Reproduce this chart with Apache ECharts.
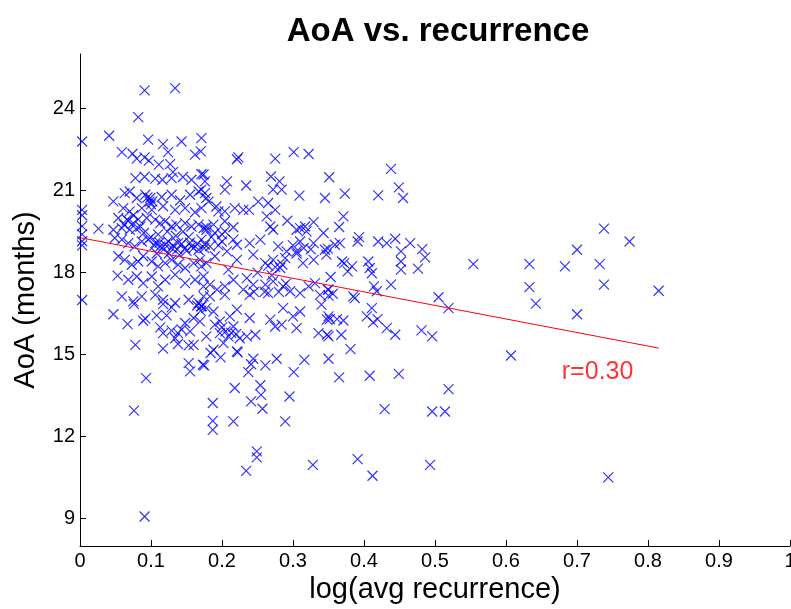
<!DOCTYPE html>
<html>
<head>
<meta charset="utf-8">
<script src="https://cdn.jsdelivr.net/npm/echarts@6/dist/echarts.min.js"></script>
<style>
    html, body {margin: 0; padding: 0; background: #fff;}
    #chart {width: 791px; height: 609px;}
</style>
</head>
<body>
<div id="chart"></div>
<script>
// [log(avg recurrence), AoA in months]
const points = [
    [0.091, 24.67], [0.134, 24.75], [0.082, 23.69], [0.041, 23.01], [0.003, 22.8], [0.096, 22.87], [0.117, 22.7],
    [0.143, 22.8], [0.171, 22.92], [0.059, 22.41], [0.074, 22.35], [0.080, 22.17], [0.091, 22.22], [0.097, 22.1],
    [0.124, 22.41], [0.111, 21.95], [0.127, 21.97], [0.131, 21.68], [0.162, 22.32], [0.170, 22.44], [0.171, 21.6],
    [0.078, 21.46], [0.091, 21.51], [0.106, 21.44], [0.116, 21.4], [0.129, 21.46], [0.145, 21.5], [0.157, 21.4],
    [0.223, 22.22], [0.221, 22.15], [0.275, 22.17], [0.301, 22.41], [0.322, 22.34], [0.174, 21.59], [0.176, 21.34],
    [0.171, 21.04], [0.176, 20.91], [0.178, 20.73], [0.207, 21.34], [0.204, 21.04], [0.234, 21.19], [0.269, 21.52],
    [0.281, 21.34], [0.272, 21.04], [0.284, 21.04], [0.309, 20.82], [0.345, 20.73], [0.351, 21.49], [0.181, 20.6],
    [0.192, 20.42], [0.195, 20.24], [0.204, 20.24], [0.218, 20.36], [0.230, 20.3], [0.238, 20.3], [0.251, 20.6],
    [0.265, 20.55], [0.275, 20.3], [0.263, 20.06], [0.292, 19.9], [0.329, 19.85], [0.310, 19.63], [0.317, 19.69],
    [0.268, 19.69], [0.204, 19.88], [0.216, 19.66], [0.178, 19.66], [0.188, 19.76],
    [0.438, 21.8], [0.449, 21.12], [0.455, 20.73], [0.373, 20.89], [0.42, 20.83], [0.371, 20.06], [0.365, 19.67],
    [0.393, 19.3], [0.391, 19.14], [0.42, 19.14], [0.432, 19.08], [0.444, 19.24], [0.465, 19.08], [0.452, 18.78],
    [0.482, 18.86], [0.486, 18.56], [0.359, 19.02], [0.366, 19.08], [0.349, 18.88], [0.369, 18.41], [0.372, 18.35],
    [0.383, 18.23], [0.406, 18.41], [0.408, 18.17], [0.452, 18.41], [0.452, 18.11], [0.476, 18.15],
    [0.377, 18.05], [0.411, 17.98], [0.353, 17.84], [0.414, 17.5], [0.418, 17.32], [0.438, 17.56], [0.349, 17.38],
    [0.356, 17.23], [0.35, 17.16], [0.385, 17.13], [0.387, 17.07], [0.505, 17.1], [0.519, 16.7], [0.411, 16.7],
    [0.404, 16.4], [0.419, 16.3], [0.413, 16.18], [0.432, 15.97], [0.444, 15.73], [0.352, 16.3], [0.362, 16.3],
    [0.371, 16.25], [0.348, 16.28], [0.348, 15.73], [0.368, 15.73], [0.481, 15.89], [0.496, 15.67], [0.381, 15.2],
    [0.365, 14.17], [0.408, 14.23], [0.449, 14.3], [0.519, 13.74],
    [0.429, 13.01], [0.496, 12.92], [0.514, 12.92], [0.391, 11.18], [0.412, 10.57], [0.493, 10.97],
    [0.738, 19.61], [0.774, 19.14], [0.70, 18.84], [0.554, 18.31], [0.633, 18.31], [0.683, 18.23], [0.732, 18.31],
    [0.633, 17.47], [0.738, 17.56], [0.815, 17.34], [0.642, 16.87], [0.70, 16.48], [0.607, 14.97], [0.744, 10.51],
    [0.184, 15.06], [0.198, 14.9], [0.175, 14.61], [0.222, 15.09], [0.244, 14.85], [0.241, 14.65], [0.237, 14.36],
    [0.261, 14.61], [0.277, 14.85], [0.316, 14.81], [0.301, 14.36], [0.35, 14.85], [0.218, 13.78], [0.254, 13.88],
    [0.255, 13.53], [0.241, 13.29], [0.257, 13.02], [0.295, 13.47], [0.187, 13.23], [0.187, 12.58], [0.187, 12.25],
    [0.216, 12.56], [0.289, 12.56], [0.249, 11.46], [0.249, 11.24], [0.234, 10.75], [0.328, 10.97],
    [0.047, 16.48], [0.067, 16.12], [0.092, 16.32], [0.089, 16.24], [0.076, 16.85], [0.108, 16.44], [0.122, 16.44],
    [0.129, 16.73], [0.117, 16.85], [0.078, 15.36], [0.117, 15.22], [0.113, 16.0], [0.117, 15.79], [0.129, 15.88],
    [0.138, 15.79], [0.143, 15.92], [0.148, 16.16], [0.155, 15.85], [0.134, 15.6], [0.138, 15.39], [0.153, 15.34],
    [0.16, 15.36], [0.153, 14.69], [0.155, 14.39], [0.173, 14.63], [0.093, 14.14], [0.076, 12.95], [0.16, 16.34],
    [0.169, 16.22], [0.171, 16.77], [0.091, 9.08],
    [0.003, 20.3], [0.003, 20.1], [0.003, 19.7], [0.003, 19.4], [0.003, 19.15], [0.003, 19.0], [0.003, 17.0],
    [0.026, 19.61],
    [0.047, 20.61], [0.063, 20.91], [0.070, 20.97], [0.080, 20.73], [0.092, 20.85], [0.099, 20.73], [0.102, 20.61],
    [0.115, 20.77], [0.129, 20.85], [0.141, 20.64], [0.155, 20.85], [0.167, 20.97],
    [0.061, 20.36], [0.070, 20.24], [0.087, 20.36], [0.101, 20.30], [0.117, 20.43], [0.134, 20.30], [0.148, 20.36],
    [0.162, 20.21], [0.171, 20.36],
    [0.054, 20.0], [0.066, 19.94], [0.075, 19.81], [0.085, 19.69], [0.094, 20.0], [0.106, 19.94], [0.113, 19.81],
    [0.120, 19.88], [0.129, 19.69], [0.136, 19.76], [0.148, 19.81], [0.157, 19.69], [0.167, 19.76], [0.174, 19.63],
    [0.047, 19.57], [0.059, 19.63], [0.070, 19.57],
    [0.049, 19.27], [0.059, 19.21], [0.068, 19.08], [0.077, 18.96], [0.087, 19.14], [0.096, 19.21], [0.106, 19.08],
    [0.113, 18.96], [0.120, 19.02], [0.129, 18.90], [0.138, 19.08], [0.148, 18.90], [0.157, 18.96], [0.167, 18.84],
    [0.176, 19.02],
    [0.054, 18.60], [0.063, 18.47], [0.073, 18.29], [0.082, 18.41], [0.089, 18.60], [0.101, 18.41], [0.110, 18.23],
    [0.120, 18.35], [0.129, 18.47], [0.138, 18.29], [0.148, 18.17], [0.160, 18.35], [0.171, 18.23],
    [0.053, 17.89], [0.068, 17.74], [0.080, 17.86], [0.089, 17.62], [0.101, 17.86], [0.110, 17.50], [0.120, 17.74],
    [0.134, 17.93], [0.148, 17.62], [0.162, 17.74], [0.174, 17.50],
    [0.059, 17.13], [0.075, 16.95], [0.087, 17.13], [0.106, 17.19], [0.117, 17.01], [0.134, 16.89], [0.153, 17.01],
    [0.167, 16.89],
    [0.178, 19.57], [0.190, 19.45], [0.204, 19.51], [0.216, 19.21], [0.200, 19.14], [0.183, 18.96], [0.221, 19.02],
    [0.239, 19.08], [0.254, 19.21], [0.272, 19.57], [0.279, 18.96], [0.291, 18.78], [0.305, 19.57], [0.319, 19.51],
    [0.310, 19.14], [0.329, 19.08], [0.343, 19.45], [0.345, 18.84], [0.171, 19.21],
    [0.169, 18.47], [0.178, 18.35], [0.190, 18.60], [0.207, 18.78], [0.221, 18.47], [0.209, 18.11], [0.244, 18.66],
    [0.261, 18.35], [0.272, 18.47], [0.289, 18.53], [0.305, 18.78], [0.314, 18.35], [0.329, 18.47], [0.347, 18.66],
    [0.282, 18.17],
    [0.174, 17.86], [0.183, 17.56], [0.193, 17.38], [0.204, 17.50], [0.204, 17.19], [0.216, 17.74], [0.230, 17.38],
    [0.239, 17.19], [0.244, 17.56], [0.261, 17.56], [0.265, 17.25], [0.272, 17.68], [0.286, 17.50], [0.296, 17.32],
    [0.310, 17.25], [0.322, 17.50], [0.331, 17.62], [0.338, 17.19], [0.350, 17.38], [0.174, 17.13], [0.183, 17.13],
    [0.171, 16.77], [0.188, 16.58], [0.197, 16.22], [0.211, 16.40], [0.221, 16.65], [0.239, 16.34], [0.268, 16.28],
    [0.286, 16.70], [0.300, 16.40], [0.310, 16.58], [0.340, 16.83], [0.350, 16.40],
    [0.178, 15.67], [0.197, 15.79], [0.209, 15.67], [0.216, 16.03], [0.235, 15.67], [0.247, 15.73], [0.275, 16.03],
    [0.284, 16.10], [0.305, 15.97], [0.336, 15.79], [0.350, 15.67], [0.188, 15.18], [0.221, 15.12], [0.202, 15.42],
    [0.095, 20.75], [0.098, 20.6], [0.1, 20.5],
    [0.105, 19.0], [0.112, 19.1], [0.118, 18.85], [0.124, 19.15], [0.131, 19.0], [0.137, 18.85], [0.143, 19.05],
    [0.150, 18.8], [0.155, 19.1], [0.16, 18.9], [0.165, 19.05], [0.108, 18.7], [0.125, 18.7], [0.14, 18.65],
    [0.1, 19.3], [0.11, 19.4], [0.123, 19.5], [0.135, 19.35], [0.145, 19.5], [0.153, 19.3], [0.068, 19.9],
    [0.075, 20.1], [0.082, 19.95], [0.062, 19.75], [0.079, 19.6], [0.09, 19.45],
    [0.165, 16.8], [0.17, 16.6], [0.178, 16.7], [0.2, 16.0], [0.205, 15.85], [0.213, 15.8], [0.19, 16.1],
    [0.22, 15.75], [0.225, 15.6], [0.185, 19.3], [0.195, 19.0], [0.175, 18.9], [0.2, 19.4],
    [0.235, 17.8], [0.25, 18.0], [0.26, 17.3], [0.27, 17.9], [0.28, 17.3], [0.29, 17.6], [0.245, 17.3],
    [0.3, 19.0], [0.315, 18.9], [0.325, 18.85], [0.305, 18.7], [0.265, 18.25], [0.275, 18.2], [0.285, 18.3]
];

// least-squares line as drawn in the figure
const fitLine = [[0, 19.28], [0.815, 15.24]];
const rLabel = "r=0.30";
const rLabelAt = [0.729, 14.35];

const xTicks = [0, 0.1, 0.2, 0.3, 0.4, 0.5, 0.6, 0.7, 0.8, 0.9, 1];
const yTicks = [9, 12, 15, 18, 21, 24];

const font = "Liberation Sans, Arial, Helvetica, sans-serif";
const chart = echarts.init(document.getElementById("chart"), null, {renderer: "canvas"});

chart.setOption({
    animation: false,
    title: {
        text: "AoA vs. recurrence",
        left: 433,
        top: 10,
        textAlign: "center",
        textStyle: {fontFamily: font, fontSize: 33, fontWeight: "bold", color: "#000"}
    },
    grid: {left: 80, right: 1, top: 54, bottom: 63, outerBoundsMode: "none", containLabel: false},
    xAxis: {
        type: "value",
        min: xTicks[0],
        max: xTicks[xTicks.length - 1],
        interval: 0.1,
        name: "log(avg recurrence)",
        nameLocation: "middle",
        nameGap: 28,
        nameTextStyle: {fontFamily: font, fontSize: 29, color: "#000"},
        axisLine: {lineStyle: {color: "#000", width: 1}},
        axisTick: {inside: true, length: 6, lineStyle: {color: "#000"}},
        axisLabel: {fontFamily: font, fontSize: 20, color: "#000", margin: 5, showMaxLabel: true, hideOverlap: false},
        splitLine: {show: false}
    },
    yAxis: {
        type: "value",
        min: 8,
        max: 26,
        name: "AoA (months)",
        nameLocation: "middle",
        nameGap: 40,
        nameTextStyle: {fontFamily: font, fontSize: 29, color: "#000"},
        axisLine: {show: true, lineStyle: {color: "#000", width: 1}},
        axisTick: {show: true, inside: true, length: 6, customValues: yTicks, lineStyle: {color: "#000"}},
        axisLabel: {fontFamily: font, fontSize: 20, color: "#000", margin: 5, customValues: yTicks},
        splitLine: {show: false}
    },
    series: [
        {
            type: "scatter",
            data: points,
            symbol: "path://M0,0L10,10M10,0L0,10",
            symbolSize: 10,
            itemStyle: {color: "none", borderColor: "#0000ff", borderWidth: 1.2},
            emphasis: {disabled: true},
            z: 2
        },
        {
            type: "line",
            data: fitLine,
            symbol: "none",
            lineStyle: {color: "#ff0000", width: 1},
            emphasis: {disabled: true},
            z: 3
        },
        {
            type: "scatter",
            data: [rLabelAt],
            symbolSize: 0,
            label: {
                show: true,
                position: "inside",
                formatter: rLabel,
                fontFamily: font,
                fontSize: 25,
                color: "#ff0000"
            },
            emphasis: {disabled: true},
            z: 4
        }
    ]
});
</script>
</body>
</html>
